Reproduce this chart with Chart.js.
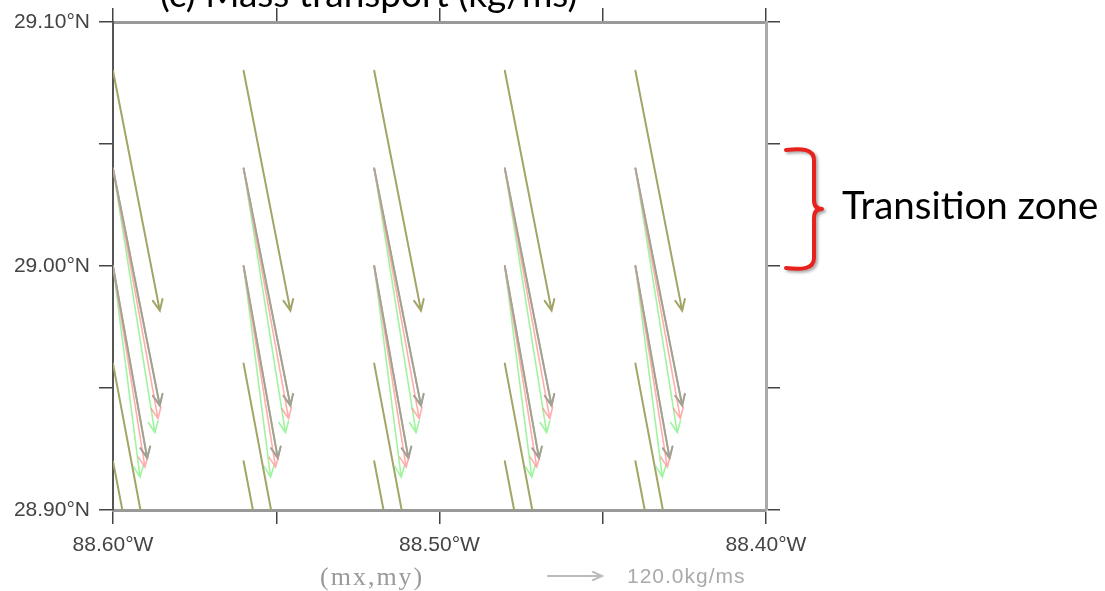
<!DOCTYPE html>
<html>
<head>
<meta charset="utf-8">
<script src="https://cdn.jsdelivr.net/npm/chart.js@4/dist/chart.umd.min.js"></script>
<style>
  body { margin: 0; background: #fff; }
  #wrap { width: 1105px; height: 591px; }
</style>
</head>
<body>
<div id="wrap"><canvas id="quiver" width="1105" height="591"></canvas></div>
<script>
// grid of vector origins
const lons = [-88.60, -88.56, -88.52, -88.48, -88.44];
const lats = [29.08, 29.04, 29.00, 28.96, 28.92];

// vector components per row (kg/ms); every column looks the same
const oliveU = [104, 104, 76, 100, 102];
const oliveV = [-533, -527, -427, -533, -533];
const greenU = [null, 93, 60, null, null];
const greenV = [null, -587, -469, null, null];
const pinkU  = [null, 100, 71, null, null];
const pinkV  = [null, -556, -447, null, null];
const grayU  = [null, 104, 76, null, null];
const grayV  = [null, -527, -427, null, null];

const xTickValues = [-88.60, -88.50, -88.40];
const xTickLabels = ['88.60°W', '88.50°W', '88.40°W'];
const yTickValues = [29.10, 29.00, 28.90];
const yTickLabels = ['29.10°N', '29.00°N', '28.90°N'];

const refMagnitude = 120.0;

function vectors(U, V) {
  const pts = [];
  lats.forEach((lat, r) => {
    if (U[r] == null) return;
    lons.forEach(lon => pts.push({x: lon, y: lat, u: U[r], v: V[r]}));
  });
  return pts;
}

function labelFor(values, labels, v) {
  const i = values.findIndex(t => Math.abs(t - v) < 1e-6);
  return i < 0 ? '' : labels[i];
}

function drawArrow(ctx, x0, y0, x1, y1, color, width, head) {
  const a = Math.atan2(y1 - y0, x1 - x0);
  ctx.strokeStyle = color;
  ctx.lineWidth = width;
  ctx.lineCap = 'round';
  ctx.beginPath();
  ctx.moveTo(x0, y0);
  ctx.lineTo(x1, y1);
  ctx.moveTo(x1 - head * Math.cos(a - 0.42), y1 - head * Math.sin(a - 0.42));
  ctx.lineTo(x1, y1);
  ctx.lineTo(x1 - head * Math.cos(a + 0.42), y1 - head * Math.sin(a + 0.42));
  ctx.stroke();
}

const quiverPlugin = {
  id: 'quiver',
  afterDatasetsDraw(chart, args, opts) {
    const ctx = chart.ctx, area = chart.chartArea;
    const k = opts.refLength / refMagnitude;
    ctx.save();
    ctx.beginPath();
    ctx.rect(area.left, area.top, area.right - area.left, area.bottom - area.top);
    ctx.clip();
    chart.data.datasets.forEach((ds, i) => {
      const meta = chart.getDatasetMeta(i);
      meta.data.forEach((pt, j) => {
        const d = ds.data[j];
        drawArrow(ctx, pt.x, pt.y, pt.x + d.u * k, pt.y - d.v * k, ds.borderColor, ds.borderWidth, opts.head);
      });
    });
    ctx.restore();
  }
};

const extrasPlugin = {
  id: 'extras',
  afterDraw(chart, args, opts) {
    const ctx = chart.ctx;
    const ys = chart.scales.y;
    ctx.save();
    // title, mostly cut off by the top edge
    ctx.fillStyle = '#000';
    ctx.font = '37px Lato';
    ctx.textBaseline = 'alphabetic';
    ctx.fillText('(c) Mass transport (kg/ms)', 160, 7);

    // reference vector
    ctx.textBaseline = 'middle';
    ctx.fillStyle = '#999';
    ctx.font = '26px "Liberation Serif"';
    ctx.letterSpacing = '2px';
    ctx.fillText('(mx,my)', 320, 578);
    ctx.letterSpacing = '0px';
    drawArrow(ctx, 548, 576, 548 + opts.refLength, 576, '#bbb', 2, 10);
    ctx.fillStyle = '#aaa';
    ctx.font = '21px "Liberation Sans"';
    ctx.letterSpacing = '1px';
    ctx.fillText(refMagnitude.toFixed(1) + 'kg/ms', 627, 577);
    ctx.letterSpacing = '0px';

    // brace
    const y0 = ys.getPixelForValue(29.05) + 6, y1 = ys.getPixelForValue(29.00) + 2;
    const mid = (y0 + y1) / 2;
    ctx.shadowColor = 'rgba(0,0,0,0.35)';
    ctx.shadowOffsetX = 2;
    ctx.shadowOffsetY = 2;
    ctx.shadowBlur = 3;
    ctx.strokeStyle = '#e8211d';
    ctx.lineWidth = 4;
    ctx.lineCap = 'round';
    ctx.lineJoin = 'round';
    ctx.beginPath();
    ctx.moveTo(786, y0);
    ctx.bezierCurveTo(802, y0 - 2, 814, y0 - 1, 814, y0 + 10);
    ctx.lineTo(814, mid - 9);
    ctx.quadraticCurveTo(814, mid, 822, mid);
    ctx.quadraticCurveTo(814, mid, 814, mid + 9);
    ctx.lineTo(814, y1 - 10);
    ctx.bezierCurveTo(814, y1 + 1, 802, y1 + 2, 786, y1);
    ctx.stroke();
    ctx.shadowColor = 'transparent';

    ctx.fillStyle = '#000';
    ctx.font = '38.5px Lato';
    ctx.textBaseline = 'alphabetic';
    ctx.fillText('Transition zone', 842, 219);
    ctx.restore();
  }
};

const tickFont = {family: 'Liberation Sans', size: 21};

new Chart(document.getElementById('quiver').getContext('2d'), {
  type: 'scatter',
  data: {
    datasets: [
      {label: 'olive', data: vectors(oliveU, oliveV), borderColor: '#a2a566', borderWidth: 2},
      {label: 'green', data: vectors(greenU, greenV), borderColor: 'rgba(120,240,120,0.7)', borderWidth: 1.6},
      {label: 'pink', data: vectors(pinkU, pinkV), borderColor: 'rgba(255,140,140,0.7)', borderWidth: 1.6},
      {label: 'gray', data: vectors(grayU, grayV), borderColor: 'rgba(160,160,175,0.75)', borderWidth: 1.6}
    ]
  },
  options: {
    responsive: false,
    animation: false,
    layout: {padding: 0},
    elements: {point: {radius: 0, hoverRadius: 0}},
    plugins: {
      legend: {display: false},
      tooltip: {enabled: false},
      quiver: {refLength: 54, head: 12},
      extras: {refLength: 54}
    },
    scales: {
      x: {
        type: 'linear', position: 'bottom', min: -88.60, max: -88.40,
        ticks: {stepSize: 0.05, autoSkip: false, maxRotation: 0, padding: 9, color: '#444', font: tickFont,
          callback: v => labelFor(xTickValues, xTickLabels, v)},
        grid: {drawOnChartArea: false, tickLength: 14, color: '#444', lineWidth: 1.5},
        border: {color: '#999', width: 3},
        afterFit: s => { s.height = 81; }
      },
      x2: {
        type: 'linear', position: 'top', min: -88.60, max: -88.40,
        ticks: {stepSize: 0.05, autoSkip: false, maxRotation: 0, callback: () => ''},
        grid: {drawOnChartArea: false, tickLength: 14, color: '#444', lineWidth: 1.5},
        border: {color: '#999', width: 3},
        afterFit: s => { s.height = 22; }
      },
      y: {
        type: 'linear', position: 'left', min: 28.90, max: 29.10,
        ticks: {stepSize: 0.05, autoSkip: false, padding: 9, color: '#444', font: tickFont,
          callback: v => labelFor(yTickValues, yTickLabels, v)},
        grid: {drawOnChartArea: false, tickLength: 14, color: '#444', lineWidth: 1.5},
        border: {color: '#555', width: 2},
        afterFit: s => { s.width = 113; }
      },
      y2: {
        type: 'linear', position: 'right', min: 28.90, max: 29.10,
        ticks: {stepSize: 0.05, autoSkip: false, callback: () => ''},
        grid: {drawOnChartArea: false, tickLength: 14, color: '#444', lineWidth: 1.5},
        border: {color: '#aaa', width: 3},
        afterFit: s => { s.width = 339; }
      }
    }
  },
  plugins: [quiverPlugin, extrasPlugin]
});
</script>
</body>
</html>
